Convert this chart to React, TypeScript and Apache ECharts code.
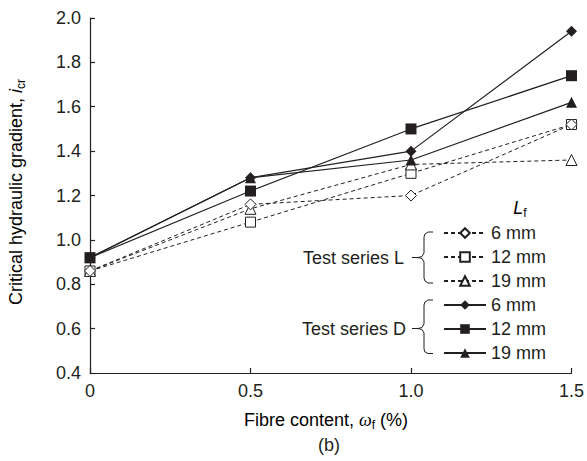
import React, { useEffect, useRef } from 'react';
import * as echarts from 'echarts';

const fibreContent = [0, 0.5, 1.0, 1.5];
const seriesL6 = [0.86, 1.16, 1.2, 1.52];
const seriesL12 = [0.86, 1.08, 1.3, 1.52];
const seriesL19 = [0.86, 1.14, 1.34, 1.36];
const seriesD6 = [0.92, 1.28, 1.4, 1.94];
const seriesD12 = [0.92, 1.22, 1.5, 1.74];
const seriesD19 = [0.92, 1.28, 1.36, 1.62];
const xTickLabels = ['0', '0.5', '1.0', '1.5'];
const yTickLabels = ['0.4', '0.6', '0.8', '1.0', '1.2', '1.4', '1.6', '1.8', '2.0'];
const namesL = ['L 6 mm', 'L 12 mm', 'L 19 mm'];
const namesD = ['D 6 mm', 'D 12 mm', 'D 19 mm'];

const INK = '#231f20';
const FONT = '"Liberation Sans", Arial, Helvetica, sans-serif';
const SERIF = '"Liberation Serif", "Times New Roman", serif';

function makeSeries(name: string, values: number[], symbol: string, size: number, open: boolean, z: number) {
  return {
    type: 'line',
    name,
    data: fibreContent.map((x, i) => [x, values[i]]),
    symbol,
    symbolSize: size,
    showSymbol: true,
    z,
    lineStyle: { color: INK, width: open ? 1 : 1.2, type: open ? [4, 3] : 'solid' },
    itemStyle: { color: open ? '#ffffff' : INK, borderColor: INK, borderWidth: open ? 1 : 0 },
    emphasis: { disabled: true },
  };
}

export default function App() {
  const ref = useRef<HTMLDivElement>(null);
  useEffect(() => {
    if (!ref.current) return;
    document.body.style.margin = '0';
    const chart = echarts.init(ref.current, undefined, { renderer: 'svg' });
    const legendBase = {
      orient: 'vertical',
      left: 443,
      itemWidth: 42,
      itemHeight: 12,
      itemGap: 6,
      padding: 0,
      selectedMode: false,
      formatter: (n: string) => n.split(' ').slice(1).join(' '),
      textStyle: { fontSize: 18, color: INK, fontFamily: FONT, lineHeight: 18 },
    };
    const sub = { fontSize: 12, fontFamily: FONT, color: INK, verticalAlign: 'bottom', lineHeight: 12 };
    const main = { fontSize: 18, fontFamily: FONT, color: INK, lineHeight: 22 };
    chart.setOption({
      animation: false,
      backgroundColor: '#ffffff',
      grid: { left: 90, right: 14, top: 18, bottom: 88, containLabel: false },
      legend: [
        { ...legendBase, top: 224, data: namesL },
        { ...legendBase, top: 296, data: namesD },
      ],
      xAxis: {
        type: 'value',
        min: 0,
        max: 1.5,
        interval: 0.5,
        axisLine: { show: true, onZero: false, lineStyle: { color: INK, width: 1.2 } },
        axisTick: { show: true, inside: true, length: 5, lineStyle: { color: INK, width: 1.2 } },
        axisLabel: {
          formatter: (_v: number, i: number) => xTickLabels[i],
          fontSize: 18,
          color: INK,
          fontFamily: FONT,
          margin: 9,
        },
        splitLine: { show: false },
      },
      yAxis: {
        type: 'value',
        min: 0.4,
        max: 2.0,
        interval: 0.2,
        axisLine: { show: true, lineStyle: { color: INK, width: 1.2 } },
        axisTick: { show: true, inside: true, length: 5, lineStyle: { color: INK, width: 1.2 } },
        axisLabel: {
          formatter: (_v: number, i: number) => yTickLabels[i],
          fontSize: 18,
          color: INK,
          fontFamily: FONT,
          margin: 9,
        },
        splitLine: { show: false },
      },
      series: [
        makeSeries(namesL[1], seriesL12, 'rect', 10, true, 2),
        makeSeries(namesL[2], seriesL19, 'triangle', 11, true, 2),
        makeSeries(namesL[0], seriesL6, 'diamond', 11, true, 2),
        makeSeries(namesD[0], seriesD6, 'diamond', 11, false, 3),
        makeSeries(namesD[1], seriesD12, 'rect', 11, false, 3),
        makeSeries(namesD[2], seriesD19, 'triangle', 11, false, 3),
      ],
      graphic: [
        {
          type: 'text',
          x: 16,
          y: 192,
          rotation: Math.PI / 2,
          style: {
            text: '{a|Critical hydraulic gradient, }{i|i}{s|cr}',
            align: 'center',
            verticalAlign: 'middle',
            rich: {
              a: main,
              i: { ...main, fontStyle: 'italic' },
              s: sub,
            },
          },
        },
        {
          type: 'text',
          x: 326,
          y: 420,
          style: {
            text: '{a|Fibre content, }{w|ω}{s|f}{a| (%)}',
            align: 'center',
            verticalAlign: 'middle',
            rich: {
              a: main,
              w: { ...main, fontFamily: SERIF, fontStyle: 'italic' },
              s: sub,
            },
          },
        },
        {
          type: 'text',
          x: 329,
          y: 445,
          style: { text: '(b)', align: 'center', verticalAlign: 'middle', fontSize: 18, fontFamily: FONT, fill: INK },
        },
        {
          type: 'text',
          x: 520,
          y: 208,
          style: {
            text: '{L|L}{s|f}',
            align: 'center',
            verticalAlign: 'middle',
            rich: { L: { ...main, fontStyle: 'italic' }, s: sub },
          },
        },
        {
          type: 'text',
          x: 404,
          y: 258,
          style: { text: 'Test series L', align: 'right', verticalAlign: 'middle', fontSize: 18, fontFamily: FONT, fill: INK },
        },
        {
          type: 'text',
          x: 406,
          y: 329,
          style: { text: 'Test series D', align: 'right', verticalAlign: 'middle', fontSize: 18, fontFamily: FONT, fill: INK },
        },
        {
          type: 'polyline',
          shape: {
            points: [
              [433, 232], [428, 232], [425, 234], [424, 237], [424, 253], [422, 256.5], [418, 257.5], [412, 257.5],
              [418, 257.5], [422, 258.5], [424, 262], [424, 278], [425, 281], [428, 283], [433, 283],
            ],
          },
          style: { stroke: INK, lineWidth: 1, fill: null },
        },
        {
          type: 'polyline',
          shape: {
            points: [
              [433, 300], [428, 300], [425, 302], [424, 305], [424, 324], [422, 327.5], [418, 328.5], [412, 328.5],
              [418, 328.5], [422, 329.5], [424, 333], [424, 349], [425, 352], [428, 353.5], [433, 353.5],
            ],
          },
          style: { stroke: INK, lineWidth: 1, fill: null },
        },
      ],
    });
    return () => chart.dispose();
  }, []);
  return <div ref={ref} style={{ position: 'absolute', left: 0, top: 0, width: 587, height: 461 }} />;
}
